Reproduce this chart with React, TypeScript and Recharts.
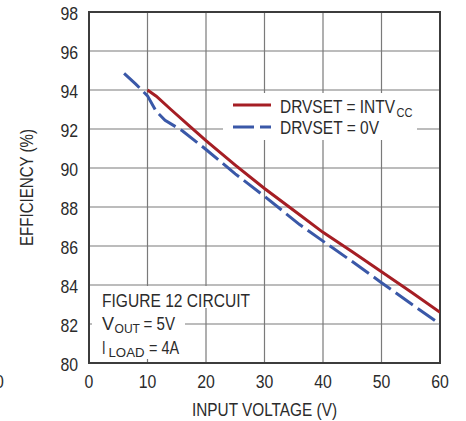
import React from 'react';
import { LineChart, Line, XAxis, YAxis, CartesianGrid, ReferenceArea, Legend } from 'recharts';

const intvccVin = [10, 11.5, 14, 17, 20, 25, 30, 36, 40, 45, 50, 55, 60];
const intvccEff = [94.0, 93.68, 93.0, 92.2, 91.4, 90.15, 88.95, 87.6, 86.7, 85.7, 84.68, 83.65, 82.6];
const zeroVin = [6, 8, 10, 11.5, 13, 16, 20, 25, 30, 36, 40, 45, 50, 55, 60];
const zeroEff = [94.85, 94.3, 93.7, 92.9, 92.45, 91.9, 90.95, 89.7, 88.55, 87.1, 86.25, 85.2, 84.12, 83.05, 82.0];
const xTicks = [0, 10, 20, 30, 40, 50, 60];
const yTicks = [80, 82, 84, 86, 88, 90, 92, 94, 96, 98];

const intvccData = intvccVin.map((v, i) => ({ vin: v, eff: intvccEff[i] }));
const zeroData = zeroVin.map((v, i) => ({ vin: v, eff: zeroEff[i] }));

const FONT = '"Liberation Sans", Arial, sans-serif';
const TXT = '#2b2b2b';
const RED = '#a51e24';
const BLUE = '#3a58a8';

type NTProps = {
  x: number;
  y: number;
  size?: number;
  sx?: number;
  len?: number;
  anchor?: 'start' | 'middle' | 'end';
  rotate?: number;
  children: React.ReactNode;
};

const NText = ({ x, y, size = 18, sx = 0.85, len, anchor = 'start', rotate = 0, children }: NTProps) => (
  <text
    x={0}
    y={0}
    transform={`translate(${x} ${y}) rotate(${rotate})${len ? '' : ` scale(${sx} 1)`}`}
    textAnchor={anchor}
    fontFamily={FONT}
    fontSize={size}
    fill={TXT}
    textLength={len}
    lengthAdjust={len ? 'spacingAndGlyphs' : undefined}
  >
    {children}
  </text>
);

const XTick = (p: any) => (
  <NText x={p.x} y={p.y + 13} anchor="middle" sx={0.88}>
    {p.payload.value}
  </NText>
);

const YTick = (p: any) => (
  <NText x={p.x} y={p.y + 8} anchor="end" sx={0.88}>
    {p.payload.value}
  </NText>
);

const XLabel = (props: any) => {
  const vb = props.viewBox || { x: 89, y: 363, width: 351, height: 58 };
  return (
    <NText x={vb.x + vb.width / 2} y={vb.y + 52.5} anchor="middle" len={145}>
      INPUT VOLTAGE (V)
    </NText>
  );
};

const YLabel = (props: any) => {
  const vb = props.viewBox || { x: 0, y: 12, width: 89, height: 351 };
  return (
    <NText x={vb.x + 32.5} y={vb.y + vb.height / 2} anchor="middle" rotate={-90} len={117}>
      EFFICIENCY (%)
    </NText>
  );
};

const LegendBox = () => (
  <svg width={194} height={47} style={{ display: 'block', background: '#fff' }}>
    <line x1={10} x2={48} y1={12} y2={12} stroke={RED} strokeWidth={3} />
    <line x1={10} x2={48} y1={34} y2={34} stroke={BLUE} strokeWidth={3} strokeDasharray="21 6" />
    <NText x={57} y={19.5} len={115}>DRVSET = INTV</NText>
    <NText x={173.5} y={23.5} size={12.5} len={16}>CC</NText>
    <NText x={57} y={40.5} len={99}>DRVSET = 0V</NText>
  </svg>
);

export default function App() {
  return (
    <div style={{ position: 'absolute', left: 0, top: 0, width: 466, height: 421, background: '#fff' }}>
      <LineChart
        width={466}
        height={421}
        margin={{ top: 12, right: 26, left: 0, bottom: 0 }}
        style={{ fontFamily: FONT }}
      >
        <CartesianGrid stroke="#7a7a7a" strokeWidth={1.2} />
        <XAxis
          type="number"
          dataKey="vin"
          domain={[0, 60]}
          ticks={xTicks}
          allowDataOverflow
          height={58}
          tickLine={false}
          axisLine={false}
          tickSize={0}
          tickMargin={12}
          tick={<XTick />}
          label={<XLabel />}
        />
        <YAxis
          type="number"
          domain={[80, 98]}
          ticks={yTicks}
          allowDataOverflow
          width={89}
          tickLine={false}
          axisLine={false}
          tickSize={0}
          tickMargin={11}
          tick={<YTick />}
          label={<YLabel />}
        />
        <ReferenceArea x1={0} x2={60} y1={80} y2={98} fill="none" stroke="#3c3c3c" strokeWidth={2} ifOverflow="visible" />
        <Line
          data={intvccData}
          dataKey="eff"
          name="DRVSET = INTVCC"
          stroke={RED}
          strokeWidth={3}
          dot={false}
          type="linear"
          isAnimationActive={false}
        />
        <Line
          data={zeroData}
          dataKey="eff"
          name="DRVSET = 0V"
          stroke={BLUE}
          strokeWidth={3}
          strokeDasharray="21 6"
          dot={false}
          type="linear"
          isAnimationActive={false}
        />
        <Legend
          layout="vertical"
          align="center"
          verticalAlign="middle"
          content={() => <LegendBox />}
          wrapperStyle={{ position: 'absolute', left: 223, top: 93, width: 194, height: 47, margin: 0, padding: 0 }}
        />
      </LineChart>
      <svg
        width={466}
        height={421}
        style={{ position: 'absolute', left: 0, top: 0, pointerEvents: 'none' }}
      >
        <rect x={92} y={286} width={163} height={22} fill="#fff" />
        <rect x={92} y={308} width={93} height={51} fill="#fff" />
        <NText x={102} y={307} len={148}>FIGURE 12 CIRCUIT</NText>
        <NText x={102} y={330} len={12}>V</NText>
        <NText x={114.5} y={333} size={13} len={25.5}>OUT</NText>
        <NText x={143.5} y={330} len={31.5}>= 5V</NText>
        <NText x={102} y={354} len={3.5}>I</NText>
        <NText x={108.5} y={357} size={13} len={36}>LOAD</NText>
        <NText x={149} y={354} len={30}>= 4A</NText>
        <NText x={-5} y={388} sx={0.88}>0</NText>
      </svg>
    </div>
  );
}
